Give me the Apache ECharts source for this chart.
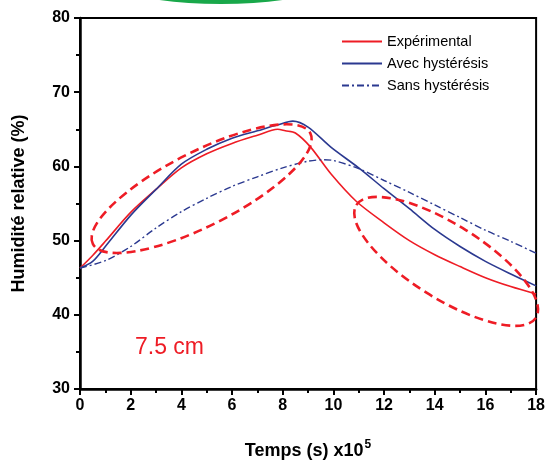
<!DOCTYPE html>
<html>
<head>
<meta charset="utf-8">
<script src="https://cdn.jsdelivr.net/npm/echarts@6/dist/echarts.min.js"></script>
<style>
html,body{margin:0;padding:0;background:#fff;}
#chart{width:548px;height:465px;}
</style>
</head>
<body>
<div id="chart"></div>
<script>
// ---- data (x in units of 1e5 s, y in %) ----
const xExp  = [0, 0.5, 1, 2, 3, 4, 5, 6, 7, 7.8, 8.1, 8.5, 9.1, 9.9, 10.9, 12, 13, 14, 15, 16, 17, 18];
const yExp  = [46.3, 48.0, 49.9, 53.8, 56.9, 59.8, 61.7, 63.1, 64.2, 65.0, 64.8, 64.5, 62.6, 59.0, 55.3, 52.4, 50.0, 48.1, 46.5, 45.0, 43.8, 42.8];
const xAvec = [0, 0.5, 1, 2, 3, 4, 5, 6, 7, 7.8, 8.4, 9.0, 9.9, 11, 12, 13, 14, 15, 16, 17, 18];
const yAvec = [46.3, 47.2, 49.2, 53.4, 56.9, 60.3, 62.3, 63.8, 64.8, 65.6, 66.1, 65.3, 62.6, 59.8, 57.0, 54.3, 51.5, 49.2, 47.2, 45.5, 43.9];
const xSans = [0, 1, 2, 3, 4, 5, 6, 7, 8, 9, 9.6, 10, 11, 12, 13, 14, 15, 16, 17, 18];
const ySans = [46.3, 47.3, 49.2, 51.7, 53.9, 55.7, 57.3, 58.6, 59.8, 60.7, 60.9, 60.8, 59.7, 58.1, 56.5, 54.8, 53.1, 51.4, 49.9, 48.3];
const seriesNames = ['Expérimental', 'Avec hystérésis', 'Sans hystérésis'];
const xTicks = [0, 2, 4, 6, 8, 10, 12, 14, 16, 18];
const yTicks = [30, 40, 50, 60, 70, 80];

const pairs = (xs, ys) => xs.map((x, i) => [x, ys[i]]);

const RED = '#ee1c25';
const BLUE = '#2b3990';
const FONT = '"Liberation Sans", Arial, sans-serif';

const chart = echarts.init(document.getElementById('chart'), null, {renderer: 'canvas'});

const axisCommon = {
  axisLine: {show: true, lineStyle: {color: '#000', width: 2.5}},
  axisTick: {show: true, inside: false, length: 6, lineStyle: {color: '#000', width: 2}},
  minorTick: {show: true, splitNumber: 2, length: 4, lineStyle: {color: '#000', width: 2}},
  splitLine: {show: false},
  axisLabel: {color: '#000', fontFamily: FONT, fontWeight: 'bold', fontSize: 16}
};

chart.setOption({
  animation: false,
  backgroundColor: '#fff',
  grid: {left: 80, right: 4, top: 18, bottom: 68, show: true, borderColor: '#000', borderWidth: 2, backgroundColor: 'transparent'},
  legend: {
    orient: 'vertical', left: 336, top: 29, itemWidth: 40, itemHeight: 14, itemGap: 7,
    itemStyle: {opacity: 0},
    textStyle: {fontFamily: FONT, fontSize: 14.5, color: '#000'},
    data: seriesNames
  },
  xAxis: Object.assign({}, axisCommon, {
    type: 'value', min: xTicks[0], max: xTicks[xTicks.length - 1], interval: 2,
    axisLabel: Object.assign({}, axisCommon.axisLabel, {margin: 9}),
    name: 'Temps (s) x10{sup|5}', nameLocation: 'middle', nameGap: 50,
    nameTextStyle: {
      color: '#000', fontFamily: FONT, fontWeight: 'bold', fontSize: 18,
      rich: {sup: {fontFamily: FONT, fontWeight: 'bold', fontSize: 12, verticalAlign: 'top', padding: [0, 0, 12, 1], color: '#000'}}
    }
  }),
  yAxis: Object.assign({}, axisCommon, {
    type: 'value', min: yTicks[0], max: yTicks[yTicks.length - 1], interval: 10,
    axisLabel: Object.assign({}, axisCommon.axisLabel, {margin: 10}),
    name: 'Humidité relative (%)', nameLocation: 'middle', nameGap: 52, nameRotate: 90,
    nameTextStyle: {color: '#000', fontFamily: FONT, fontWeight: 'bold', fontSize: 18}
  }),
  series: [
    {name: seriesNames[0], type: 'line', data: pairs(xExp, yExp), smooth: 0.3, symbol: 'none',
     lineStyle: {color: RED, width: 1.6}, itemStyle: {color: RED}},
    {name: seriesNames[1], type: 'line', data: pairs(xAvec, yAvec), smooth: 0.3, symbol: 'none',
     lineStyle: {color: BLUE, width: 1.6}, itemStyle: {color: BLUE}},
    {name: seriesNames[2], type: 'line', data: pairs(xSans, ySans), smooth: 0.3, symbol: 'none',
     lineStyle: {color: BLUE, width: 1.4, type: [7, 3, 2, 3]}, itemStyle: {color: BLUE}}
  ]
});

// annotations placed in data coordinates
const p1 = chart.convertToPixel({gridIndex: 0}, [4.8, 57.0]);
const p2 = chart.convertToPixel({gridIndex: 0}, [14.45, 47.2]);
chart.setOption({
  graphic: [
    {type: 'ellipse', x: p1[0], y: p1[1], rotation: 0.47, shape: {cx: 0, cy: 0, rx: 122, ry: 37},
     style: {fill: 'none', stroke: RED, lineWidth: 2.6, lineDash: [9, 5]}, z: 10},
    {type: 'ellipse', x: p2[0], y: p2[1], rotation: -0.56, shape: {cx: 0, cy: 0, rx: 106, ry: 37},
     style: {fill: 'none', stroke: RED, lineWidth: 2.6, lineDash: [9, 5]}, z: 10},
    {type: 'text', left: 135, top: 336, style: {text: '7.5 cm', fill: RED, font: '23px ' + FONT}, z: 10},
    {type: 'ellipse', x: 221, y: -27, shape: {cx: 0, cy: 0, rx: 120, ry: 29},
     style: {fill: 'none', stroke: '#19a84a', lineWidth: 4}, z: 10}
  ]
});
</script>
</body>
</html>
